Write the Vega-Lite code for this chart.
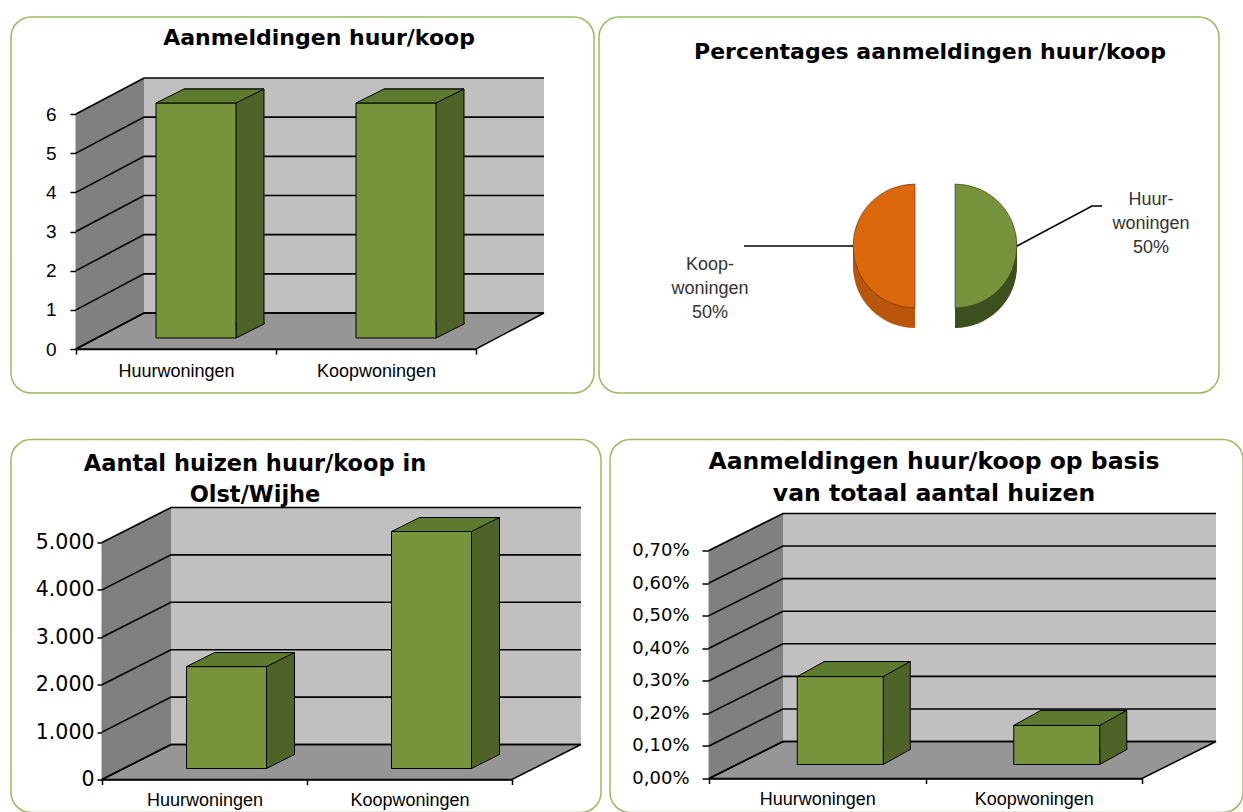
{
  "$schema": "https://vega.github.io/schema/vega-lite/v6.json",
  "padding": {"left": 10, "top": 16, "right": 0, "bottom": 0},
  "background": "white",
  "config": {
    "font": "Liberation Sans",
    "view": {"stroke": null},
    "axis": {"labelColor": "black", "domainColor": "black", "tickColor": "black", "labelFont": "Liberation Sans"},
    "title": {"font": "DejaVu Sans", "fontWeight": "bold", "color": "black"},
    "locale": {"number": {"decimal": ",", "thousands": ".", "grouping": [3], "currency": ["€", ""]}}
  },
  "datasets": {
    "aanmeldingen": [
      {"woning": "Huurwoningen", "aantal": 6, "label": ["Huur-", "woningen", "50%"]},
      {"woning": "Koopwoningen", "aantal": 6, "label": ["Koop-", "woningen", "50%"]}
    ],
    "huizen": [
      {"woning": "Huurwoningen", "aantal": 2150},
      {"woning": "Koopwoningen", "aantal": 5000}
    ],
    "aandeel": [
      {"woning": "Huurwoningen", "aandeel": 0.0027},
      {"woning": "Koopwoningen", "aandeel": 0.0012}
    ],
    "ticks6": [{"t": 0}, {"t": 1}, {"t": 2}, {"t": 3}, {"t": 4}, {"t": 5}, {"t": 6}],
    "ticks5000": [{"t": 0}, {"t": 1000}, {"t": 2000}, {"t": 3000}, {"t": 4000}, {"t": 5000}],
    "ticks07": [{"t": 0}, {"t": 0.001}, {"t": 0.002}, {"t": 0.003}, {"t": 0.004}, {"t": 0.005}, {"t": 0.006}, {"t": 0.007}]
  },
  "spacing": 44.5,
  "vconcat": [
    {
      "spacing": 3,
      "hconcat": [
        {
          "width": 583,
          "height": 376,
          "view": {"stroke": "#9cba62", "strokeWidth": 1.5, "cornerRadius": 20, "fill": "white"},
          "title": {"text": "Aanmeldingen huur/koop", "frame": "group", "anchor": "middle", "dx": 16.5, "offset": -55, "baseline": "bottom", "fontSize": 22},
          "layer": [
            {"data": {"values": [{}]}, "mark": {"type": "point", "shape": "M68,-36L468,-36L468,-271L68,-271Z", "size": 4, "filled": true, "fill": "#c0c0c0", "strokeWidth": 0, "opacity": 1, "xOffset": -100}, "encoding": {"x": {"datum": "Huurwoningen", "type": "nominal", "title": null}, "y": {"datum": 0, "type": "quantitative", "title": null}}},
            {"data": {"values": [{}]}, "mark": {"type": "point", "shape": "M0,0L68,-36L68,-271L0,-235Z", "size": 4, "filled": true, "fill": "#808080", "strokeWidth": 0, "opacity": 1, "xOffset": -100}, "encoding": {"x": {"datum": "Huurwoningen", "type": "nominal", "title": null}, "y": {"datum": 0, "type": "quantitative", "title": null}}},
            {"data": {"values": [{}]}, "mark": {"type": "point", "shape": "M0,0L400,0L468,-36L68,-36Z", "size": 4, "filled": true, "fill": "#969696", "stroke": "black", "strokeWidth": 1.5, "opacity": 1, "xOffset": -100}, "encoding": {"x": {"datum": "Huurwoningen", "type": "nominal", "title": null}, "y": {"datum": 0, "type": "quantitative", "title": null}}},
            {"data": {"name": "ticks6"}, "mark": {"type": "point", "shape": "M0,0L68,-36L468,-36", "size": 4, "filled": false, "stroke": "black", "strokeWidth": 1.6, "opacity": 1, "xOffset": -100}, "encoding": {"x": {"datum": "Huurwoningen", "type": "nominal", "title": null}, "y": {"field": "t", "type": "quantitative", "title": null}}},
            {"data": {"name": "aanmeldingen"}, "mark": {"type": "bar", "width": 80, "fill": "#4F6228", "stroke": "black", "strokeWidth": 1, "xOffset": 48, "x2Offset": 48, "yOffset": -25, "y2Offset": -25}, "encoding": {"x": {"field": "woning", "type": "nominal", "title": null}, "y": {"field": "aantal", "type": "quantitative", "title": null}}},
            {"data": {"name": "aanmeldingen"}, "mark": {"type": "point", "shape": "M28,-16L28,-14L0,0L0,-16", "size": 4, "filled": true, "fill": "#4F6228", "stroke": "black", "strokeWidth": 1, "opacity": 1, "xOffset": 60, "yOffset": -11}, "encoding": {"x": {"field": "woning", "type": "nominal", "title": null}, "y": {"datum": 0, "type": "quantitative", "title": null}}},
            {"data": {"name": "aanmeldingen"}, "mark": {"type": "bar", "width": 80, "fill": "#77933C", "stroke": "black", "strokeWidth": 1, "xOffset": 20, "x2Offset": 20, "yOffset": -11, "y2Offset": -11},
             "encoding": {
               "x": {"field": "woning", "type": "nominal", "title": null, "scale": {"range": [65, 465], "paddingInner": 0, "paddingOuter": 0}, "axis": {"labelAngle": 0, "labelAlign": "center", "tickBand": "extent", "tickSize": 5, "tickWidth": 1.5, "domainWidth": 1.5, "labelFontSize": 18, "labelPadding": 17, "offset": -44}},
               "y": {"field": "aantal", "type": "quantitative", "title": null, "scale": {"domain": [0, 6], "nice": false, "range": [332, 97]}, "axis": {"values": [0, 1, 2, 3, 4, 5, 6], "format": "d", "grid": false, "tickSize": 6, "tickWidth": 1.5, "domainWidth": 1.5, "labelPadding": 14, "labelFontSize": 19, "offset": -65}}
             }},
            {"data": {"name": "aanmeldingen"}, "mark": {"type": "point", "shape": "M-40,0L40,0L68,-14L-12,-14Z", "size": 4, "filled": true, "fill": "#5E7A2E", "stroke": "black", "strokeWidth": 1, "opacity": 1, "xOffset": 20, "yOffset": -11}, "encoding": {"x": {"field": "woning", "type": "nominal", "title": null}, "y": {"field": "aantal", "type": "quantitative", "title": null}}}
          ]
        },
        {
          "width": 620,
          "height": 376,
          "view": {"stroke": "#9cba62", "strokeWidth": 1.5, "cornerRadius": 20, "fill": "white"},
          "title": {"text": "Percentages aanmeldingen huur/koop", "frame": "group", "anchor": "middle", "dx": 21, "offset": -69, "baseline": "bottom", "fontSize": 22},
          "data": {"name": "aanmeldingen"},
          "transform": [{"stack": "aantal", "groupby": [], "offset": "normalize", "sort": [{"field": "woning", "order": "ascending"}], "as": ["s0", "s1"]}],
          "layer": [
            {"transform": [{"filter": {"field": "woning", "equal": "Koopwoningen"}}], "mark": {"type": "arc", "radius": 62, "xOffset": 6, "yOffset": 61}, "encoding": {"theta": {"field": "s0", "type": "quantitative", "scale": {"domain": [0, 1]}}, "theta2": {"field": "s1"}, "fill": {"field": "woning", "type": "nominal", "scale": {"domain": ["Huurwoningen", "Koopwoningen"], "range": ["#3C4F1F", "#B9560B"]}, "legend": null}}},
            {"transform": [{"filter": {"field": "woning", "equal": "Koopwoningen"}}], "mark": {"type": "arc", "radius": 62, "xOffset": 6, "yOffset": 57}, "encoding": {"theta": {"field": "s0", "type": "quantitative"}, "theta2": {"field": "s1"}, "fill": {"field": "woning", "type": "nominal", "legend": null}}},
            {"transform": [{"filter": {"field": "woning", "equal": "Koopwoningen"}}], "mark": {"type": "arc", "radius": 62, "xOffset": 6, "yOffset": 53}, "encoding": {"theta": {"field": "s0", "type": "quantitative"}, "theta2": {"field": "s1"}, "fill": {"field": "woning", "type": "nominal", "legend": null}}},
            {"transform": [{"filter": {"field": "woning", "equal": "Koopwoningen"}}], "mark": {"type": "arc", "radius": 62, "xOffset": 6, "yOffset": 49}, "encoding": {"theta": {"field": "s0", "type": "quantitative"}, "theta2": {"field": "s1"}, "fill": {"field": "woning", "type": "nominal", "legend": null}}},
            {"transform": [{"filter": {"field": "woning", "equal": "Koopwoningen"}}], "mark": {"type": "arc", "radius": 62, "xOffset": 6, "yOffset": 45}, "encoding": {"theta": {"field": "s0", "type": "quantitative"}, "theta2": {"field": "s1"}, "fill": {"field": "woning", "type": "nominal", "legend": null}}},
            {"transform": [{"filter": {"field": "woning", "equal": "Koopwoningen"}}], "mark": {"type": "arc", "radius": 62, "xOffset": 6, "yOffset": 41, "stroke": "#5a2a05", "strokeWidth": 0.6}, "encoding": {"theta": {"field": "s0", "type": "quantitative"}, "theta2": {"field": "s1"}, "color": {"field": "woning", "type": "nominal", "scale": {"domain": ["Huurwoningen", "Koopwoningen"], "range": ["#76923B", "#DD680B"]}, "legend": null}}},
            {"transform": [{"filter": {"field": "woning", "equal": "Huurwoningen"}}], "mark": {"type": "arc", "radius": 62, "xOffset": 46, "yOffset": 61}, "encoding": {"theta": {"field": "s0", "type": "quantitative"}, "theta2": {"field": "s1"}, "fill": {"field": "woning", "type": "nominal", "legend": null}}},
            {"transform": [{"filter": {"field": "woning", "equal": "Huurwoningen"}}], "mark": {"type": "arc", "radius": 62, "xOffset": 46, "yOffset": 57}, "encoding": {"theta": {"field": "s0", "type": "quantitative"}, "theta2": {"field": "s1"}, "fill": {"field": "woning", "type": "nominal", "legend": null}}},
            {"transform": [{"filter": {"field": "woning", "equal": "Huurwoningen"}}], "mark": {"type": "arc", "radius": 62, "xOffset": 46, "yOffset": 53}, "encoding": {"theta": {"field": "s0", "type": "quantitative"}, "theta2": {"field": "s1"}, "fill": {"field": "woning", "type": "nominal", "legend": null}}},
            {"transform": [{"filter": {"field": "woning", "equal": "Huurwoningen"}}], "mark": {"type": "arc", "radius": 62, "xOffset": 46, "yOffset": 49}, "encoding": {"theta": {"field": "s0", "type": "quantitative"}, "theta2": {"field": "s1"}, "fill": {"field": "woning", "type": "nominal", "legend": null}}},
            {"transform": [{"filter": {"field": "woning", "equal": "Huurwoningen"}}], "mark": {"type": "arc", "radius": 62, "xOffset": 46, "yOffset": 45}, "encoding": {"theta": {"field": "s0", "type": "quantitative"}, "theta2": {"field": "s1"}, "fill": {"field": "woning", "type": "nominal", "legend": null}}},
            {"transform": [{"filter": {"field": "woning", "equal": "Huurwoningen"}}], "mark": {"type": "arc", "radius": 62, "xOffset": 46, "yOffset": 41, "stroke": "#2a3514", "strokeWidth": 0.6}, "encoding": {"theta": {"field": "s0", "type": "quantitative"}, "theta2": {"field": "s1"}, "color": {"field": "woning", "type": "nominal", "legend": null}}},
            {"transform": [{"filter": {"field": "woning", "equal": "Huurwoningen"}}], "mark": {"type": "text", "fontSize": 18, "lineHeight": 24, "align": "center", "baseline": "middle", "color": "#333333", "xOffset": 242, "yOffset": -5}, "encoding": {"text": {"field": "label", "type": "nominal"}}},
            {"transform": [{"filter": {"field": "woning", "equal": "Koopwoningen"}}], "mark": {"type": "text", "fontSize": 18, "lineHeight": 24, "align": "center", "baseline": "middle", "color": "#333333", "xOffset": -199, "yOffset": 60}, "encoding": {"text": {"field": "label", "type": "nominal"}}},
            {"transform": [{"filter": {"field": "woning", "equal": "Koopwoningen"}}], "mark": {"type": "point", "shape": "M0,0L109,0", "size": 4, "filled": false, "stroke": "black", "strokeWidth": 1.5, "opacity": 1, "xOffset": -165, "yOffset": 41}, "encoding": {}},
            {"transform": [{"filter": {"field": "woning", "equal": "Huurwoningen"}}], "mark": {"type": "point", "shape": "M0,0L75,-40L85,-40", "size": 4, "filled": false, "stroke": "black", "strokeWidth": 1.5, "opacity": 1, "xOffset": 108, "yOffset": 41}, "encoding": {}}
          ]
        }
      ]
    },
    {
      "spacing": 7,
      "hconcat": [
        {
          "width": 590,
          "height": 373,
          "view": {"stroke": "#9cba62", "strokeWidth": 1.5, "cornerRadius": 20, "fill": "white"},
          "title": {"text": ["Aantal huizen huur/koop in", "Olst/Wijhe"], "frame": "group", "anchor": "middle", "dx": -51, "offset": -89.5, "baseline": "bottom", "lineHeight": 31, "fontSize": 22.5},
          "layer": [
            {"data": {"values": [{}]}, "mark": {"type": "point", "shape": "M69,-35L479,-35L479,-272L69,-272Z", "size": 4, "filled": true, "fill": "#c0c0c0", "strokeWidth": 0, "opacity": 1, "xOffset": -102.5}, "encoding": {"x": {"datum": "Huurwoningen", "type": "nominal", "title": null}, "y": {"datum": 0, "type": "quantitative", "title": null}}},
            {"data": {"values": [{}]}, "mark": {"type": "point", "shape": "M0,0L69,-35L69,-272L0,-237Z", "size": 4, "filled": true, "fill": "#808080", "strokeWidth": 0, "opacity": 1, "xOffset": -102.5}, "encoding": {"x": {"datum": "Huurwoningen", "type": "nominal", "title": null}, "y": {"datum": 0, "type": "quantitative", "title": null}}},
            {"data": {"values": [{}]}, "mark": {"type": "point", "shape": "M0,0L410,0L479,-35L69,-35Z", "size": 4, "filled": true, "fill": "#969696", "stroke": "black", "strokeWidth": 1.5, "opacity": 1, "xOffset": -102.5}, "encoding": {"x": {"datum": "Huurwoningen", "type": "nominal", "title": null}, "y": {"datum": 0, "type": "quantitative", "title": null}}},
            {"data": {"name": "ticks5000"}, "mark": {"type": "point", "shape": "M0,0L69,-35L479,-35", "size": 4, "filled": false, "stroke": "black", "strokeWidth": 1.6, "opacity": 1, "xOffset": -102.5}, "encoding": {"x": {"datum": "Huurwoningen", "type": "nominal", "title": null}, "y": {"field": "t", "type": "quantitative", "title": null}}},
            {"data": {"name": "huizen"}, "mark": {"type": "bar", "width": 80, "fill": "#4F6228", "stroke": "black", "strokeWidth": 1, "xOffset": 50, "x2Offset": 50, "yOffset": -25, "y2Offset": -25}, "encoding": {"x": {"field": "woning", "type": "nominal", "title": null}, "y": {"field": "aantal", "type": "quantitative", "title": null}}},
            {"data": {"name": "huizen"}, "mark": {"type": "point", "shape": "M28,-16L28,-14L0,0L0,-16", "size": 4, "filled": true, "fill": "#4F6228", "stroke": "black", "strokeWidth": 1, "opacity": 1, "xOffset": 62, "yOffset": -11}, "encoding": {"x": {"field": "woning", "type": "nominal", "title": null}, "y": {"datum": 0, "type": "quantitative", "title": null}}},
            {"data": {"name": "huizen"}, "mark": {"type": "bar", "width": 80, "fill": "#77933C", "stroke": "black", "strokeWidth": 1, "xOffset": 22, "x2Offset": 22, "yOffset": -11, "y2Offset": -11},
             "encoding": {
               "x": {"field": "woning", "type": "nominal", "title": null, "scale": {"range": [91, 501], "paddingInner": 0, "paddingOuter": 0}, "axis": {"labelAngle": 0, "labelAlign": "center", "tickBand": "extent", "tickSize": 5, "tickWidth": 1.5, "domainWidth": 1.5, "labelFontSize": 18, "labelPadding": 16, "offset": -33}},
               "y": {"field": "aantal", "type": "quantitative", "title": null, "scale": {"domain": [0, 5000], "nice": false, "range": [340, 103]}, "axis": {"values": [0, 1000, 2000, 3000, 4000, 5000], "format": ",d", "grid": false, "tickSize": 5, "tickWidth": 1.5, "domainWidth": 1.5, "labelPadding": 3, "labelFont": "DejaVu Sans", "labelFontSize": 20.5, "offset": -91}}
             }},
            {"data": {"name": "huizen"}, "mark": {"type": "point", "shape": "M-40,0L40,0L68,-14L-12,-14Z", "size": 4, "filled": true, "fill": "#5E7A2E", "stroke": "black", "strokeWidth": 1, "opacity": 1, "xOffset": 22, "yOffset": -11}, "encoding": {"x": {"field": "woning", "type": "nominal", "title": null}, "y": {"field": "aantal", "type": "quantitative", "title": null}}}
          ]
        },
        {
          "width": 633,
          "height": 373,
          "view": {"stroke": "#9cba62", "strokeWidth": 1.5, "cornerRadius": 20, "fill": "white"},
          "title": {"text": ["Aanmeldingen huur/koop op basis", "van totaal aantal huizen"], "frame": "group", "anchor": "middle", "dx": 7.5, "offset": -89.5, "baseline": "bottom", "lineHeight": 32, "fontSize": 23.5},
          "layer": [
            {"data": {"values": [{}]}, "mark": {"type": "point", "shape": "M74,-37L507,-37L507,-265L74,-265Z", "size": 4, "filled": true, "fill": "#c0c0c0", "strokeWidth": 0, "opacity": 1, "xOffset": -108.25}, "encoding": {"x": {"datum": "Huurwoningen", "type": "nominal", "title": null}, "y": {"datum": 0, "type": "quantitative", "title": null}}},
            {"data": {"values": [{}]}, "mark": {"type": "point", "shape": "M0,0L74,-37L74,-265L0,-228Z", "size": 4, "filled": true, "fill": "#808080", "strokeWidth": 0, "opacity": 1, "xOffset": -108.25}, "encoding": {"x": {"datum": "Huurwoningen", "type": "nominal", "title": null}, "y": {"datum": 0, "type": "quantitative", "title": null}}},
            {"data": {"values": [{}]}, "mark": {"type": "point", "shape": "M0,0L433,0L507,-37L74,-37Z", "size": 4, "filled": true, "fill": "#969696", "stroke": "black", "strokeWidth": 1.5, "opacity": 1, "xOffset": -108.25}, "encoding": {"x": {"datum": "Huurwoningen", "type": "nominal", "title": null}, "y": {"datum": 0, "type": "quantitative", "title": null}}},
            {"data": {"name": "ticks07"}, "mark": {"type": "point", "shape": "M0,0L74,-37L507,-37", "size": 4, "filled": false, "stroke": "black", "strokeWidth": 1.6, "opacity": 1, "xOffset": -108.25}, "encoding": {"x": {"datum": "Huurwoningen", "type": "nominal", "title": null}, "y": {"field": "t", "type": "quantitative", "title": null}}},
            {"data": {"name": "aandeel"}, "mark": {"type": "bar", "width": 86, "fill": "#4F6228", "stroke": "black", "strokeWidth": 1, "xOffset": 50, "x2Offset": 50, "yOffset": -29, "y2Offset": -29}, "encoding": {"x": {"field": "woning", "type": "nominal", "title": null}, "y": {"field": "aandeel", "type": "quantitative", "title": null}}},
            {"data": {"name": "aandeel"}, "mark": {"type": "point", "shape": "M27,-17L27,-15L0,0L0,-17", "size": 4, "filled": true, "fill": "#4F6228", "stroke": "black", "strokeWidth": 1, "opacity": 1, "xOffset": 66, "yOffset": -14}, "encoding": {"x": {"field": "woning", "type": "nominal", "title": null}, "y": {"datum": 0, "type": "quantitative", "title": null}}},
            {"data": {"name": "aandeel"}, "mark": {"type": "bar", "width": 86, "fill": "#77933C", "stroke": "black", "strokeWidth": 1, "xOffset": 23, "x2Offset": 23, "yOffset": -14, "y2Offset": -14},
             "encoding": {
               "x": {"field": "woning", "type": "nominal", "title": null, "scale": {"range": [99, 532], "paddingInner": 0, "paddingOuter": 0}, "axis": {"labelAngle": 0, "labelAlign": "center", "tickBand": "extent", "tickSize": 5, "tickWidth": 1.5, "domainWidth": 1.5, "labelFontSize": 18, "labelPadding": 16, "offset": -34}},
               "y": {"field": "aandeel", "type": "quantitative", "title": null, "scale": {"domain": [0, 0.007], "nice": false, "range": [339, 111]}, "axis": {"values": [0, 0.001, 0.002, 0.003, 0.004, 0.005, 0.006, 0.007], "format": ".2%", "grid": false, "tickSize": 7, "tickWidth": 1.5, "domainWidth": 1.5, "labelPadding": 13, "labelFont": "DejaVu Sans", "labelFontSize": 18, "offset": -99}}
             }},
            {"data": {"name": "aandeel"}, "mark": {"type": "point", "shape": "M-43,0L43,0L70,-15L-16,-15Z", "size": 4, "filled": true, "fill": "#5E7A2E", "stroke": "black", "strokeWidth": 1, "opacity": 1, "xOffset": 23, "yOffset": -14}, "encoding": {"x": {"field": "woning", "type": "nominal", "title": null}, "y": {"field": "aandeel", "type": "quantitative", "title": null}}}
          ]
        }
      ]
    }
  ]
}
